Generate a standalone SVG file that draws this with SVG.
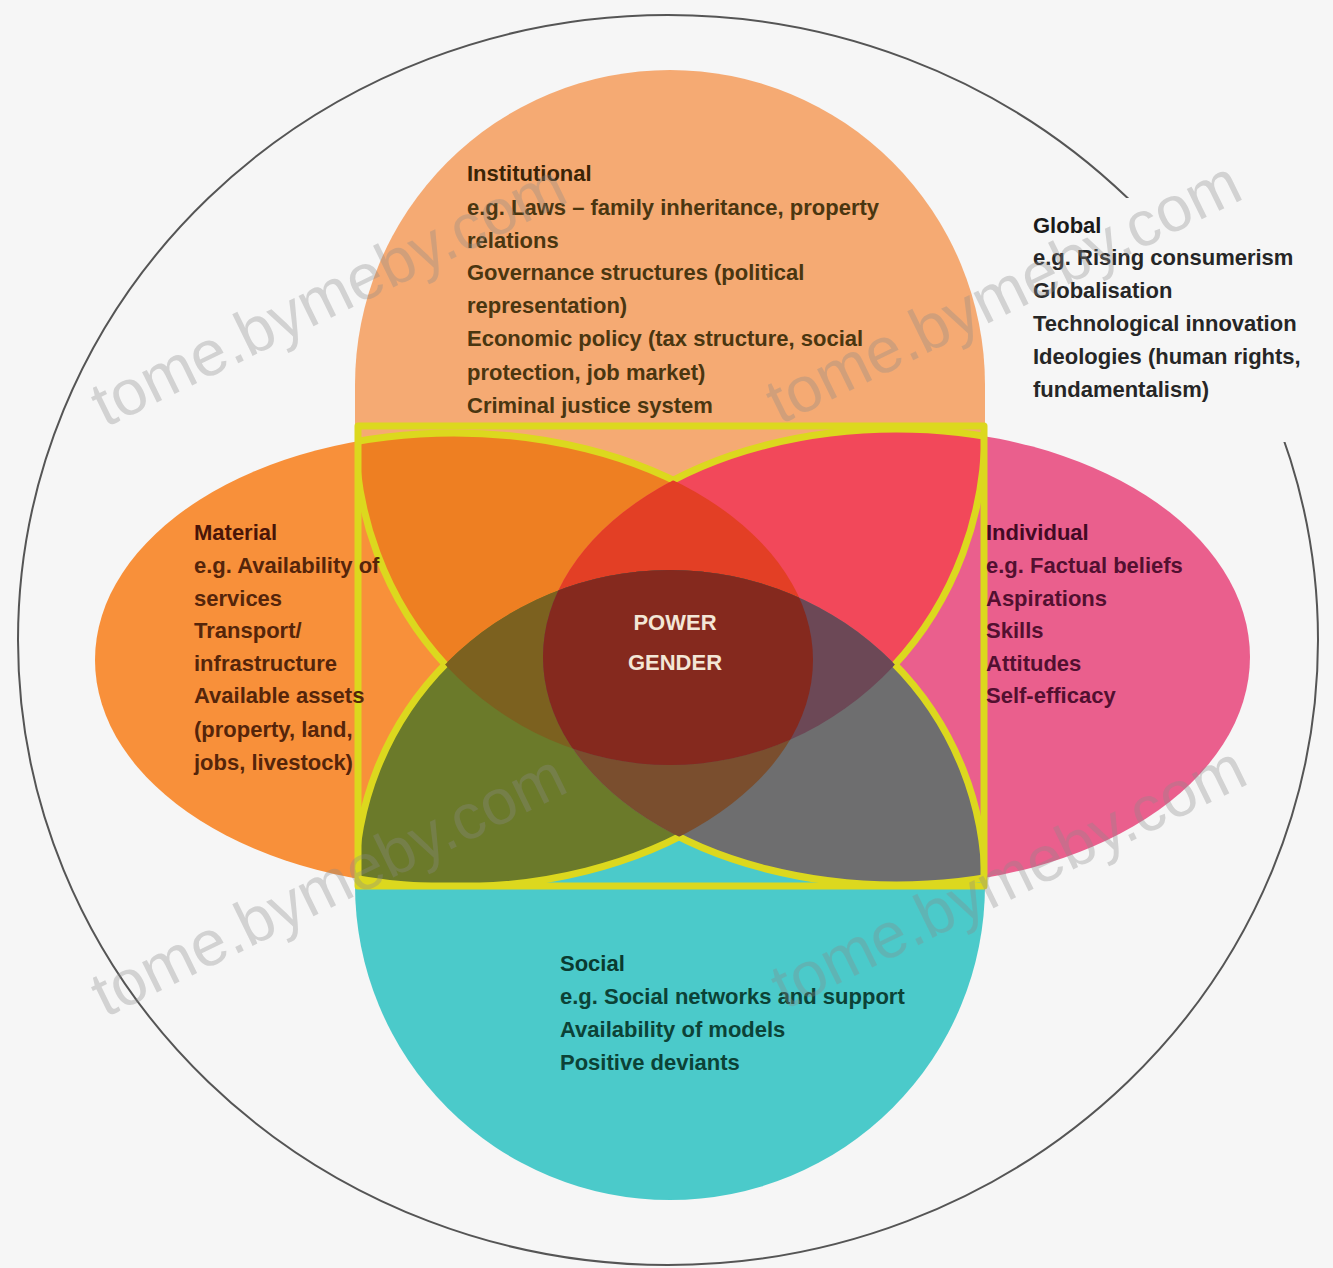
<svg xmlns="http://www.w3.org/2000/svg" xmlns:xlink="http://www.w3.org/1999/xlink" width="1333" height="1268" viewBox="0 0 1333 1268">
<style>
.t{font-family:"Liberation Sans",Arial,sans-serif;font-size:22px;font-weight:bold}
.wm{font-family:"Liberation Sans",Arial,sans-serif;font-size:64px;fill:#8a8a8a;opacity:.33}
.yl{fill:none;stroke:#DCD81E;stroke-width:7;stroke-linejoin:round}
</style>
<defs>
<path id="shT" d="M355,430 L355,385 A315,315 0 0 1 985,385 L985,430 A315,335 0 0 1 355,430 Z"/>
<circle id="shB" cx="670" cy="885" r="315"/>
<ellipse id="shL" cx="454" cy="660" rx="359" ry="227"/>
<ellipse id="shR" cx="896.5" cy="657" rx="353.5" ry="228"/>
<clipPath id="cT"><path d="M355,430 L355,385 A315,315 0 0 1 985,385 L985,430 A315,335 0 0 1 355,430 Z"/></clipPath>
<clipPath id="cB"><circle cx="670" cy="885" r="315"/></clipPath>
<clipPath id="cL"><ellipse cx="454" cy="660" rx="359" ry="227"/></clipPath>
<clipPath id="cR"><ellipse cx="896.5" cy="657" rx="353.5" ry="228"/></clipPath>
<mask id="mT" maskUnits="userSpaceOnUse" x="0" y="0" width="1333" height="1268"><rect x="358" y="426" width="626" height="460" fill="#fff"/><circle cx="670" cy="885" r="315" fill="#000"/></mask>
<mask id="mB" maskUnits="userSpaceOnUse" x="0" y="0" width="1333" height="1268"><rect x="358" y="426" width="626" height="460" fill="#fff"/><path d="M355,430 L355,385 A315,315 0 0 1 985,385 L985,430 A315,335 0 0 1 355,430 Z" fill="#000"/></mask>
<mask id="mL" maskUnits="userSpaceOnUse" x="0" y="0" width="1333" height="1268"><rect x="358" y="426" width="626" height="460" fill="#fff"/><ellipse cx="896.5" cy="657" rx="353.5" ry="228" fill="#000"/></mask>
<mask id="mR" maskUnits="userSpaceOnUse" x="0" y="0" width="1333" height="1268"><rect x="358" y="426" width="626" height="460" fill="#fff"/><ellipse cx="454" cy="660" rx="359" ry="227" fill="#000"/></mask>
</defs>
<rect x="0" y="0" width="1333" height="1268" fill="#F6F6F6"/>
<g id="global-circle">
<ellipse cx="668" cy="640" rx="650" ry="625" fill="none" stroke="#555" stroke-width="2"/>
<rect x="1025" y="198" width="292" height="244" fill="#F6F6F6"/>
</g>
<g id="petal-institutional"><use xlink:href="#shT" fill="#F5AA73"/></g>
<g id="petal-material"><use xlink:href="#shL" fill="#F8903A"/></g>
<g id="petal-individual"><use xlink:href="#shR" fill="#EA5F8D"/></g>
<g id="petal-social"><use xlink:href="#shB" fill="#4BCACA"/></g>
<g id="overlaps">
<g clip-path="url(#cT)"><use xlink:href="#shL" fill="#EE7F22"/></g>
<g clip-path="url(#cT)"><use xlink:href="#shR" fill="#F2485A"/></g>
<g clip-path="url(#cB)"><use xlink:href="#shL" fill="#6B7A2A"/></g>
<g clip-path="url(#cB)"><use xlink:href="#shR" fill="#6E6E6F"/></g>
<g clip-path="url(#cT)"><g clip-path="url(#cL)"><use xlink:href="#shR" fill="#E33F25"/></g></g>
<g clip-path="url(#cB)"><g clip-path="url(#cL)"><use xlink:href="#shR" fill="#7A4E2E"/></g></g>
<g clip-path="url(#cT)"><g clip-path="url(#cB)"><use xlink:href="#shL" fill="#7C611F"/></g></g>
<g clip-path="url(#cT)"><g clip-path="url(#cB)"><use xlink:href="#shR" fill="#6C4856"/></g></g>
</g>
<g id="power-gender-centre">
<g clip-path="url(#cT)"><g clip-path="url(#cB)"><g clip-path="url(#cL)"><use xlink:href="#shR" fill="#85291E"/></g></g></g>
</g>
<g id="connectors">
<use xlink:href="#shT" class="yl" mask="url(#mT)"/>
<use xlink:href="#shB" class="yl" mask="url(#mB)"/>
<use xlink:href="#shL" class="yl" mask="url(#mL)"/>
<use xlink:href="#shR" class="yl" mask="url(#mR)"/>
<rect x="358" y="426" width="626" height="460" class="yl"/>
</g>
<g id="label-institutional" class="t" fill="#4A3610">
<text x="467" y="181" fill="#3A2406">Institutional</text>
<text x="467" y="215">e.g. Laws – family inheritance, property</text>
<text x="467" y="248">relations</text>
<text x="467" y="280">Governance structures (political</text>
<text x="467" y="313">representation)</text>
<text x="467" y="346">Economic policy (tax structure, social</text>
<text x="467" y="380">protection, job market)</text>
<text x="467" y="413">Criminal justice system</text>
</g>
<g id="label-global" class="t" fill="#262626">
<text x="1033" y="233" fill="#1A1A1A">Global</text>
<text x="1033" y="265">e.g. Rising consumerism</text>
<text x="1033" y="298">Globalisation</text>
<text x="1033" y="331">Technological innovation</text>
<text x="1033" y="364">Ideologies (human rights,</text>
<text x="1033" y="397">fundamentalism)</text>
</g>
<g id="label-material" class="t" fill="#55250A">
<text x="194" y="540" fill="#4A1508">Material</text>
<text x="194" y="573">e.g. Availability of</text>
<text x="194" y="606">services</text>
<text x="194" y="638">Transport/</text>
<text x="194" y="671">infrastructure</text>
<text x="194" y="703">Available assets</text>
<text x="194" y="737">(property, land,</text>
<text x="194" y="770">jobs, livestock)</text>
</g>
<g id="label-individual" class="t" fill="#521030">
<text x="986" y="540" fill="#420A24">Individual</text>
<text x="986" y="573">e.g. Factual beliefs</text>
<text x="986" y="606">Aspirations</text>
<text x="986" y="638">Skills</text>
<text x="986" y="671">Attitudes</text>
<text x="986" y="703">Self-efficacy</text>
</g>
<g id="label-social" class="t" fill="#0C4236">
<text x="560" y="971" fill="#0A3A30">Social</text>
<text x="560" y="1004">e.g. Social networks and support</text>
<text x="560" y="1037">Availability of models</text>
<text x="560" y="1070">Positive deviants</text>
</g>
<g id="label-centre" class="t" fill="#F3E6D6" text-anchor="middle">
<text x="675" y="630">POWER</text>
<text x="675" y="670">GENDER</text>
</g>
<g id="watermarks">
<text class="wm" x="105" y="428" transform="rotate(-26 105 428)">tome.bymeby.com</text>
<text class="wm" x="780" y="425" transform="rotate(-26 780 425)">tome.bymeby.com</text>
<text class="wm" x="105" y="1018" transform="rotate(-26 105 1018)">tome.bymeby.com</text>
<text class="wm" x="785" y="1010" transform="rotate(-26 785 1010)">tome.bymeby.com</text>
</g>
</svg>
